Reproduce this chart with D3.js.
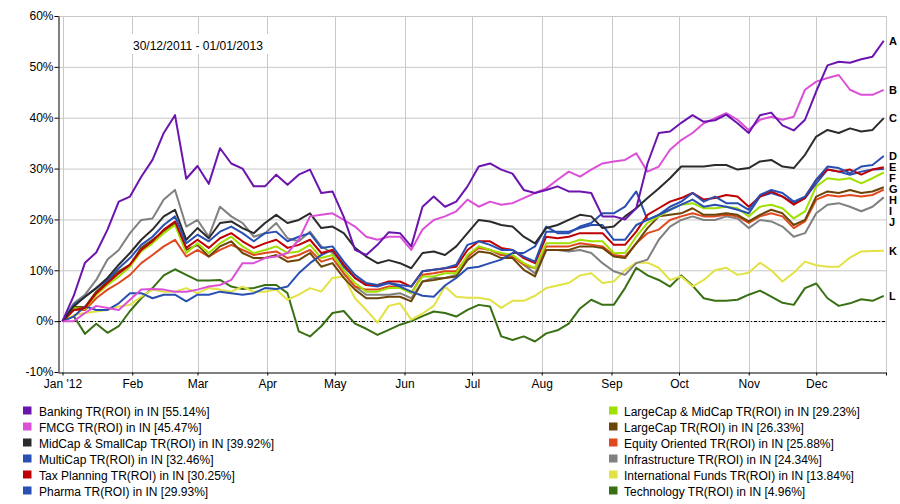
<!DOCTYPE html>
<html><head><meta charset="utf-8">
<script src="https://cdn.jsdelivr.net/npm/d3@7"></script>
<style>
body{margin:0;background:#fff;}
svg{display:block;font-family:"Liberation Sans",Arial,sans-serif;}
</style>
</head><body>
<svg id="chart" width="900" height="504"></svg>
<script>
const dates = ["2012-01-01","2012-01-06","2012-01-11","2012-01-16","2012-01-21","2012-01-26","2012-01-31","2012-02-05","2012-02-10","2012-02-15","2012-02-20","2012-02-25","2012-03-01","2012-03-06","2012-03-11","2012-03-16","2012-03-21","2012-03-26","2012-03-31","2012-04-05","2012-04-10","2012-04-15","2012-04-20","2012-04-25","2012-04-30","2012-05-05","2012-05-10","2012-05-15","2012-05-20","2012-05-25","2012-05-30","2012-06-04","2012-06-09","2012-06-14","2012-06-19","2012-06-24","2012-06-29","2012-07-04","2012-07-09","2012-07-14","2012-07-19","2012-07-24","2012-07-29","2012-08-03","2012-08-08","2012-08-13","2012-08-18","2012-08-23","2012-08-28","2012-09-02","2012-09-07","2012-09-12","2012-09-17","2012-09-22","2012-09-27","2012-10-02","2012-10-07","2012-10-12","2012-10-17","2012-10-22","2012-10-27","2012-11-01","2012-11-06","2012-11-11","2012-11-16","2012-11-21","2012-11-26","2012-12-01","2012-12-06","2012-12-11","2012-12-16","2012-12-21","2012-12-26","2012-12-31"];

const banking = [0,5,11.5,13.5,18,23.5,24.5,28.4,31.7,37,40.5,28,30.5,27,34,31,30,26.5,26.5,28.8,26.8,28.8,29.8,25.2,25.5,20.5,14,13,15,17.5,17.3,14.7,22.5,24.5,22.5,23.5,26.5,30.4,31,29.8,29,25.8,25.2,25.8,26.5,25.5,25.5,25.2,20.6,20.6,20,22.2,31,37,37.3,39,40.5,39.2,39.5,40.6,38.9,37,40.5,41,38.5,37.5,39.6,45.2,50.3,51,50.8,51.5,52,55.14];
const fmcg = [0,0,1.6,3,2.6,2.2,4.2,6.2,6.3,6.2,5.8,5.8,6.2,6.8,7.1,8.1,11.4,11.4,12.4,12.7,13.4,16,20.6,20.9,21.2,19.9,18.6,16.6,16,16.6,16.6,14,18,19.9,20.6,21.6,23.9,22.5,23.5,22.9,23.2,24.2,25.2,26.1,27.8,29.4,28.4,29.8,31,31.4,31.7,33,29.4,30.4,33.7,35.6,37,38.9,39.9,40.9,39.6,37.6,39.6,40.2,39.6,40.2,45.5,47.1,47.8,48.4,45.5,44.5,44.5,45.47];
const midSmallCap = [0,2.9,4.8,6.5,8.5,11.1,13.4,16,18,20.6,21.9,16,18.3,16.3,19.3,19.6,18.3,17.3,19.3,20.9,19.3,19.9,21.2,18.3,18.6,17.3,14.4,12.7,11.4,12,11.4,10.4,13.4,13.7,13,14.7,17.3,19.9,19.6,18.9,18.6,16.6,15.3,18.3,18.9,19.9,20.9,20.6,18.3,18.6,20.6,22.2,24.2,26.1,28.1,30.4,30.4,30.4,30.7,30.7,29.8,30.1,31.4,31.7,30.4,30.1,32.7,36.3,37.6,37,37.9,37.3,37.6,39.92];
const multiCap = [0,3.2,4.8,6.5,8.1,10.4,12.4,15,16.6,18.9,20.6,15.3,17,15.7,17.6,18.6,17.3,15.7,17.3,17.6,15.7,16.6,17.3,14.4,14.7,11.7,9.1,7.5,7.1,7.5,7.1,6.8,9.8,10.1,10.4,11.1,15,15.7,15,14,14,12.7,11.7,17.6,17.6,17.6,18.3,18.9,18.9,16,16,18.9,19.9,20.9,22.5,23.5,25.2,23.5,24.5,23.2,23.2,21.9,24.8,25.8,25.2,23.5,24.5,27.8,30.4,30.1,29.1,30.4,30.7,32.46];
const taxPlanning = [0,2.2,2.6,5.5,7.5,9.4,11.1,14,15.7,18,19.6,14.4,16,14.4,16.3,17.3,15.7,14.4,15.3,16,14.4,15,16,13.4,14,11.1,8.5,7.1,7.1,7.8,7.8,6.8,9.8,10.1,10.4,10.7,14,15.7,15.7,14.4,14,12.4,11.4,16.6,16.3,16.6,17.3,17.3,17.3,15,15,17.6,20.9,22.2,23.5,24.2,25.2,23.9,24.2,24.8,24.5,22.5,24.5,25.5,24.5,22.9,24.2,27.8,29.8,29.4,29.8,28.8,29.8,30.25];
const pharma = [0,0.9,2.9,2.2,2.2,3.5,5.5,5.5,4.5,5.2,5.2,3.9,5.2,5.2,5.8,5.5,5.2,5.5,6.5,6.3,6.8,9.4,11.4,13,14,10.7,8.5,7.1,6.8,7.5,6.8,5.8,5,4.8,7,8.5,10.4,10.7,11.4,12.1,13.4,13.4,14.7,18.6,17.3,17.3,18.6,19.3,21.2,21.2,22.5,25.5,19.9,20.9,21.9,22.9,23.9,22.5,22.9,22.5,21.9,21.2,24.5,25.2,24.5,23.2,24.2,27.1,29.8,29.4,28.8,29.4,29.8,29.93];
const largeMidCap = [0,2.6,2.4,5.2,7.1,8.8,10.7,13.7,15.3,17.3,18.9,13.4,15.3,13.4,15.3,16.6,14.7,13.4,14,14.7,13.4,13.7,15,12.4,13,10.1,7.5,5.8,5.8,6.5,6.5,5.5,8.8,8.8,9.4,9.4,13,14.7,14,13.4,13,11.4,10.4,15.3,15.3,15.3,16,15.7,15.7,13.4,13.4,16.6,19.3,20.6,21.9,22.9,23.2,22.2,22.2,22.5,22.2,20.6,22.5,22.9,22.2,20.2,21.6,26.5,28.1,27.8,28.1,27.1,28.1,29.23];
const largeCap = [0,2.8,2.8,5.8,7.8,9.8,11.1,14.4,16,17.6,19.3,14,15,12.7,14.7,15.7,13.4,12.4,12.4,13,11.7,12,13.4,10.7,11.4,8.5,6.2,4.5,4.5,4.8,4.8,3.9,7.8,8.1,8.5,8.8,12,13.7,13.4,12.4,12.4,10.1,8.8,14,14,14,14.7,14.7,14.4,12.7,12.4,15.3,18.3,20.6,20.9,21.2,22.2,20.9,20.9,21.2,20.9,19.6,20.9,21.9,21.2,18.9,19.9,24.5,25.5,25.2,25.8,25.2,25.5,26.33];
const equityOriented = [0,2.2,2.2,4.5,6.2,7.5,9.1,11.4,13,14.7,16,12.7,14,12.7,14,15,14,13,13.4,13.7,12.4,13,14,11.7,12.4,9.4,6.8,6.2,6.2,6.8,6.8,5.5,9.1,9.4,9.8,9.8,12.7,14.4,14,13,12.7,11.1,10.4,14.7,14.7,14.7,15.3,15,14.7,13,12.7,15.3,17.3,18,19.9,20.6,21.2,20.6,20.6,20.9,20.6,19.3,20.6,21.2,20.6,18.3,19.6,23.9,24.8,24.5,24.8,24.5,24.8,25.88];
const infrastructure = [0,3.5,5.2,8.1,12.1,14,17.3,19.9,20.2,23.9,25.8,18.6,19.9,16.6,22.5,20.6,19.3,16.6,17.3,19.3,16.3,15.7,17.6,14.7,13.4,9.4,6.8,5.2,5.2,5.2,5.5,4.5,7.8,8.5,8.5,9.1,12.5,14.7,14,13,13,11.1,9.4,14,14,13.7,14,13.4,11.4,9.8,9.1,11.4,12.1,16,18.6,19.9,20.6,19.9,19.9,20.6,20.2,18.3,19.9,19.6,18.6,16.6,17.3,21.2,22.9,23.2,22.5,21.6,22.5,24.34];
const internationalFunds = [0,1.2,1.6,1.9,2.2,2.9,3.2,4.8,6.2,5.8,5.8,6.5,5.5,6.5,6.2,5.8,6.8,5.8,5.8,6.2,4.2,5.2,6.5,5.8,8.5,8.8,4.5,2.2,-0.3,3,3.5,0.3,1.5,3,6.8,4.8,4.6,4.6,4.2,2.6,4,4,5,6.5,7,7.5,9,9.4,7.5,7.8,10,11.5,11.5,10.5,8.1,8.8,6.8,8.1,10,10.5,9.1,9.5,11.5,10,7.8,9.5,11.7,11,10.7,10.7,12.5,13.7,13.8,13.84];
const technology = [0,1,-2.5,-0.5,-2.3,-1,2,4.5,6.5,9,10.2,9.1,8,8,8.1,6.8,6.3,6.5,7.1,7.1,5.5,-2,-3,-1,1.6,2,-0.5,-1.5,-2.7,-1.7,-0.7,0,1,1.9,1.6,0.9,2.2,3.2,2.9,-3,-3.7,-3,-4,-2.4,-1.8,-0.5,2.5,4.2,3.2,3.2,6.5,10.5,9,8.1,6.8,9,7,4.5,4,4,4.2,5.2,6,4.8,3.6,3.2,6.5,7.4,4.5,3,3.5,4.3,4,4.96];

const seriesNames = ["Banking TR(ROI) in IN [55.14%]","FMCG TR(ROI) in IN [45.47%]","MidCap & SmallCap TR(ROI) in IN [39.92%]","MultiCap TR(ROI) in IN [32.46%]","Tax Planning TR(ROI) in IN [30.25%]","Pharma TR(ROI) in IN [29.93%]","LargeCap & MidCap TR(ROI) in IN [29.23%]","LargeCap TR(ROI) in IN [26.33%]","Equity Oriented TR(ROI) in IN [25.88%]","Infrastructure TR(ROI) in IN [24.34%]","International Funds TR(ROI) in IN [13.84%]","Technology TR(ROI) in IN [4.96%]"];
const seriesValues = [banking,fmcg,midSmallCap,multiCap,taxPlanning,pharma,largeMidCap,largeCap,equityOriented,infrastructure,internationalFunds,technology];
const seriesColors = ["#6c14ae","#dc50d8","#2b2b2b","#2a4fb2","#c00000","#2a4fb2","#a0e000","#6b4508","#e0481e","#808080","#e2e244","#3a7014"];
const endLetters = ["A","B","C","D","E","F","G","H","I","J","K","L"];
const yTicks = [-10,0,10,20,30,40,50,60];
const monthTicks = ["2012-01-01","2012-02-01","2012-03-01","2012-04-01","2012-05-01","2012-06-01","2012-07-01","2012-08-01","2012-09-01","2012-10-01","2012-11-01","2012-12-01"];
const monthLabels = ["Jan '12","Feb","Mar","Apr","May","Jun","Jul","Aug","Sep","Oct","Nov","Dec"];
const rangeLabel = "30/12/2011 - 01/01/2013";

const parse = d3.timeParse("%Y-%m-%d");
const svg = d3.select("#chart");
const L = 58, R = 886, T = 16, B = 372;
const x = d3.scaleTime().domain([new Date(2011,11,30), new Date(2013,0,1)]).range([L, R]);
const y = d3.scaleLinear().domain([-10, 60]).range([B, T]);
const monthDates = monthTicks.map(parse);
const parsedDates = dates.map(parse);

// gridlines
const grid = svg.append("g");
grid.selectAll("line.h").data(yTicks.filter(v => v > -10)).join("line")
  .attr("x1", L).attr("x2", R).attr("y1", d => y(d) + 0.5).attr("y2", d => y(d) + 0.5)
  .attr("stroke", "#c8c8c8").attr("stroke-width", 1);
grid.selectAll("line.v").data(monthDates.concat([new Date(2013,0,1)])).join("line")
  .attr("x1", d => Math.round(x(d)) + 0.5).attr("x2", d => Math.round(x(d)) + 0.5)
  .attr("y1", T).attr("y2", B)
  .attr("stroke", "#c8c8c8").attr("stroke-width", 1);

// date range label with white box
svg.append("rect").attr("x", 129).attr("y", 34).attr("width", 141).attr("height", 20).attr("fill", "#fff");
svg.append("text").attr("x", 133).attr("y", 49.5).attr("font-size", 12).attr("fill", "#000").text(rangeLabel);

// zero line
svg.append("line").attr("x1", L).attr("x2", R).attr("y1", Math.round(y(0)) + 0.5).attr("y2", Math.round(y(0)) + 0.5)
  .attr("stroke", "#000").attr("stroke-width", 1).attr("stroke-dasharray", "3,2,1,2");

// series lines (draw last legend item first so Banking is on top)
const line = d3.line().x((d, i) => x(parsedDates[i])).y(d => y(d));
const order = d3.range(seriesValues.length).reverse();
svg.append("g").selectAll("path").data(order).join("path")
  .attr("d", i => line(seriesValues[i]))
  .attr("fill", "none").attr("stroke", i => seriesColors[i])
  .attr("stroke-width", 2).attr("stroke-linejoin", "round");

// axes
const yAxis = d3.axisLeft(y).tickValues(yTicks).tickFormat(d => d + "%").tickSize(4).tickSizeOuter(0).tickPadding(1);
const gy = svg.append("g").attr("transform", `translate(${L + 0.5},0)`).call(yAxis);
const xAxis = d3.axisBottom(x).tickValues(monthDates).tickFormat((d, i) => monthLabels[i]).tickSize(3).tickSizeOuter(0).tickPadding(4);
const gx = svg.append("g").attr("transform", `translate(0,${B + 0.5})`).call(xAxis);
gx.append("line").attr("x1", Math.round(R) + 0.5).attr("x2", Math.round(R) + 0.5).attr("y1", 0).attr("y2", 3).attr("stroke", "#000");
[gy, gx].forEach(g => {
  g.selectAll("text").attr("font-size", 12).attr("fill", "#000").attr("font-family", '"Liberation Sans",Arial,sans-serif');
  g.selectAll("line").attr("stroke", "#000");
  g.select(".domain").attr("stroke", "#000");
});

// end letters with simple collision spacing
const ends = seriesValues.map((s, i) => ({i, v: s[s.length - 1]})).sort((a, b) => b.v - a.v);
let prev = -Infinity;
ends.forEach(e => { let yy = y(e.v); if (yy < prev + 11) yy = prev + 11; e.y = yy; prev = yy; });
svg.append("g").selectAll("text").data(ends).join("text")
  .attr("x", 889).attr("y", d => d.y).attr("dy", "0.36em")
  .attr("font-size", 11).attr("font-weight", "bold").attr("fill", "#000")
  .text(d => endLetters[d.i]);

// legend
const leg = svg.append("g");
seriesNames.forEach((name, i) => {
  const col = i < 6 ? 0 : 1;
  const row = i % 6;
  const sx = col === 0 ? 23 : 609;
  const tx = col === 0 ? 39 : 624;
  const by = 416 + row * 16;
  leg.append("rect").attr("x", sx).attr("y", by - 9.5).attr("width", 8.5).attr("height", 8).attr("fill", seriesColors[i]);
  leg.append("text").attr("x", tx).attr("y", by).attr("font-size", 12).attr("fill", "#000").text(name);
});
</script>
</body></html>
